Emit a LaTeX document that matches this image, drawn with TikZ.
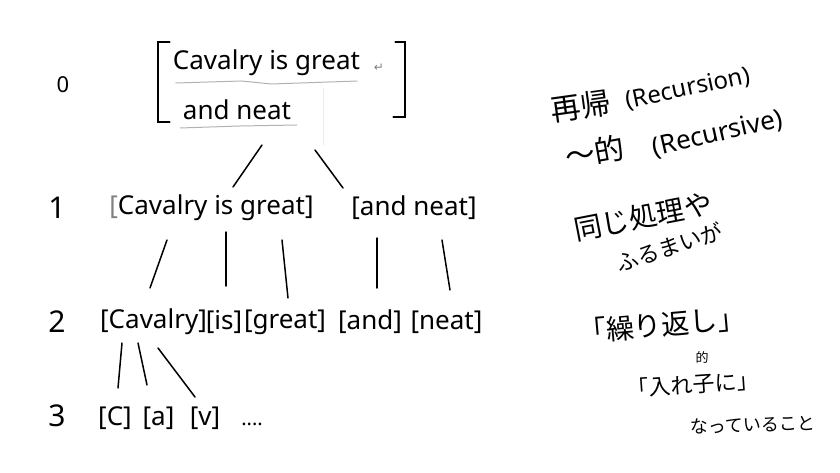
\documentclass[tikz,border=0pt]{standalone}
\usepackage{fontspec}
\setmainfont{Noto Sans}
\newfontfamily\jpfont{Noto Sans CJK JP}
\newfontfamily\symfont{DejaVu Sans}
\usetikzlibrary{calc}

\tikzset{
  lvl/.style={font=\fontsize{30}{32}\selectfont, inner sep=0pt},
  word/.style={font=\fontsize{26}{30}\selectfont, inner sep=0pt},
  memo/.style={font=\jpfont\fontsize{30}{34}\selectfont, inner sep=0pt, anchor=west},
  link/.style={line width=1.5pt, line cap=round},
  uline/.style={gray!60, line width=1pt},
}

\begin{document}
\begin{tikzpicture}[x=1pt, y=-1pt]
    \useasboundingbox (0,0) rectangle (840,473);

    % depth numbers
    \node[lvl, font=\fontsize{22}{24}\selectfont] (l0) at (63,85) {0};
    \node[lvl] (l1) at (57,208) {1};
    \node[lvl] (l2) at (57,322) {2};
    \node[lvl] (l3) at (57,416) {3};

    % level 0
    \node[minimum width=247pt, minimum height=80pt, inner sep=0pt] (root) at (281.5,82) {};
    \draw[link] ($(root.north west)+(12,0)$) -- (root.north west) -- (root.south west) -- ++(12,0);
    \draw[link] ($(root.north east)+(-10,0)$) -- (root.north east) -- ($(root.south east)+(0,-5)$) -- ++(-12,0);
    \node[word] (top1) at (266.5,63) {Cavalry is great};
    \node[font=\symfont\fontsize{12}{12}\selectfont, text=gray, inner sep=0pt] (ret) at (379,68) {↵};
    \node[word] (top2) at (237,110) {and neat};
    \draw[uline] ($(top1)+(-91,20)$) -- ($(top1)+(-25,18)$) -- ($(top1)+(5,21)$) -- ($(top1)+(91,18)$);
    \draw[uline] ($(top2)+(-57,18)$) -- ($(top2)+(3,16)$) -- ($(top2)+(60,15)$);
    \draw[gray!15, line width=0.8pt] ($(root)+(41.5,6)$) -- ($(root)+(41.5,63)$);

    % level 1
    \node[word] (n1a) at (211.5,208) {{\color{gray}[}Cavalry is great]};
    \node[word] (n1b) at (414,208) {[and neat]};

    % level 2
    \node[word] (c2a) at (153.5,322) {[Cavalry]};
    \node[word] (c2b) at (224,322) {[is]};
    \node[word] (c2c) at (285,322) {[great]};
    \node[word] (c2d) at (370,322) {[and]};
    \node[word] (c2e) at (446.5,322) {[neat]};

    % level 3
    \node[word] (d3a) at (115,418) {[C]};
    \node[word] (d3b) at (158.5,418) {[a]};
    \node[word] (d3c) at (205,418) {[v]};
    \node[word, font=\fontsize{20}{22}\selectfont] (d3d) at (252,424) {....};

    % branches
    \draw[link] ($(root)+(-19.5,63)$) -- ($(n1a)+(21.5,-21)$);
    \draw[link] ($(root)+(33.5,68)$) -- ($(n1b)+(-71,-20)$);
    \draw[link] ($(n1a)+(-44.5,32)$) -- ($(c2a)+(-3.5,-34)$);
    \draw[link] ($(n1a)+(14.5,24)$) -- ($(c2b)+(2,-36)$);
    \draw[link] ($(n1a)+(70.5,32)$) -- ($(c2c)+(3,-24)$);
    \draw[link] ($(n1b)+(-37,30)$) -- ($(c2d)+(7,-34)$);
    \draw[link] ($(n1b)+(28,32)$) -- ($(c2e)+(3.5,-32)$);
    \draw[link] ($(c2a)+(-31.5,21)$) -- ($(d3a)+(3,-30)$);
    \draw[link] ($(c2a)+(-15.5,21)$) -- ($(d3b)+(-11.5,-33)$);
    \draw[link] ($(c2a)+(4.5,26)$) -- ($(d3c)+(-10,-21)$);

    % notes on the right
    \node[memo, rotate=8] (rec) at (551,110) {再帰};
    \node[memo, rotate=12, font=\rmfamily\fontsize{24}{28}\selectfont] (recen) at (626,102) {(Recursion)};
    \node[memo, rotate=10] (adjrec) at (565,157) {〜的};
    \node[memo, rotate=13, font=\rmfamily\fontsize{26}{30}\selectfont] (adjen) at (653,149) {(Recursive)};
    \node[memo, rotate=11, font=\jpfont\fontsize{28}{32}\selectfont] (same) at (574,230) {同じ処理や};
    \node[memo, rotate=18, font=\jpfont\fontsize{22}{26}\selectfont] (behave) at (617,264) {ふるまいが};
    \node[memo, rotate=5, font=\jpfont\fontsize{28}{32}\selectfont] (again) at (578,332) {「繰り返し」};
    \node[font=\jpfont\fontsize{13}{14}\selectfont, inner sep=0pt] (adj) at (702,357) {的};
    \node[memo, rotate=4, font=\jpfont\fontsize{22}{26}\selectfont] (nest) at (627,389) {「入れ子に」};
    \node[memo, rotate=2, font=\jpfont\fontsize{18}{22}\selectfont] (being) at (690,427) {なっていること};
\end{tikzpicture}
\end{document}
